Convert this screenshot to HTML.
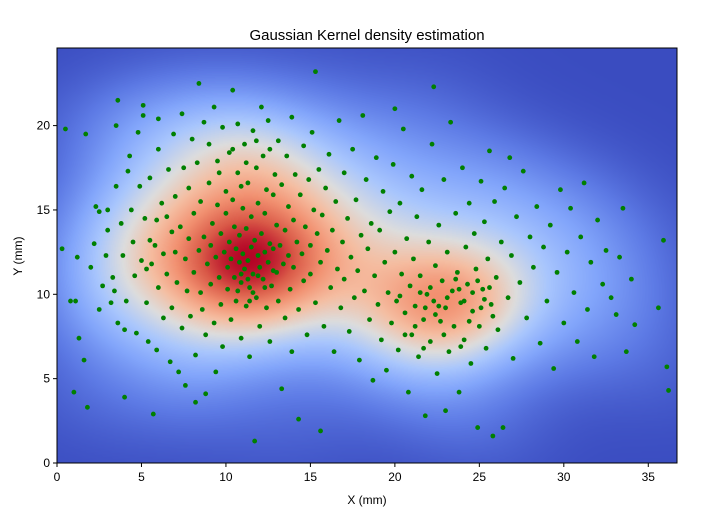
<!DOCTYPE html>
<html><head><meta charset="utf-8"><style>
body{margin:0;background:#fff;width:718px;height:517px;overflow:hidden;font-family:"Liberation Sans",sans-serif}
#wrap{position:relative;width:718px;height:517px}
canvas{position:absolute;left:57px;top:48px}
svg{position:absolute;left:0;top:0}
</style></head><body>
<div id="wrap">
<canvas id="cv" width="620" height="415"></canvas>
<svg id="sv" width="718" height="517"></svg>
</div>
<script>
const points=[[0.3,12.7],[0.5,19.8],[0.8,9.6],[1.1,9.6],[1,4.2],[1.2,12.2],[1.3,7.4],[1.7,19.5],[1.6,6.1],[1.8,3.3],[2,11.6],[2.2,13],[2.3,15.2],[2.5,14.9],[2.5,9.1],[2.7,10.5],[2.9,12.3],[3,13.8],[3,15],[3.2,9.5],[3.3,11],[3.4,10.2],[3.5,20],[3.6,21.5],[3.5,16.4],[3.6,8.3],[3.8,14.2],[3.9,12.3],[4,7.9],[4,3.9],[4.1,9.6],[4.2,17.3],[4.3,18.2],[4.4,15],[4.5,13.1],[4.6,11.1],[4.7,7.7],[4.8,19.6],[4.9,16.4],[5,12],
[5.1,20.6],[5.1,21.2],[5.2,14.5],[5.3,11.5],[5.3,9.5],[5.4,7.2],[5.5,13.2],[5.5,16.9],[5.6,11.8],[5.7,2.9],[5.8,12.9],[5.9,14.4],[5.9,6.7],[6,18.6],[6,10.4],[6,20.4],[6.2,15.4],[6.3,12.4],[6.3,8.6],[6.5,14.6],[6.5,11.2],[6.6,17.4],[6.7,6],[6.8,13.7],[6.8,9.2],[6.9,19.5],[7,12.5],[7,15.8],[7.1,10.7],[7.2,5.4],[7.3,14],[7.4,20.7],[7.4,8],[7.5,17.5],[7.6,12.1],[7.6,4.6],[7.7,10.2],[7.8,16.3],[7.8,13.3],[7.9,8.7],[8,19.2],
[8.1,11.3],[8.1,14.8],[8.2,6.4],[8.2,3.6],[8.3,17.8],[8.4,22.5],[8.4,12.6],[8.5,10.1],[8.5,15.5],[8.6,9.1],[8.7,20.2],[8.7,13.4],[8.8,7.6],[8.8,4.1],[8.9,11.8],[9,16.6],[9,18.9],[9.1,12.9],[9.1,10.6],[9.2,14.2],[9.3,8.3],[9.3,21.1],[9.4,12.2],[9.4,5.4],[9.5,15.3],[9.5,17.9],[9.6,11],[9.7,13.6],[9.7,9.4],[9.8,19.9],[9.8,6.9],[9.9,12.5],[10,16.1],[10,14.8],
[10.1,11.6],[10.1,10.3],[10.2,13.1],[10.2,18.4],[10.3,12.1],[10.3,8.5],[10.4,22.1],[10.4,15.6],[10.5,11],[10.5,14],[10.6,12.7],[10.6,9.6],[10.7,17.2],[10.7,20.1],[10.8,11.9],[10.8,13.5],[10.9,7.4],[10.9,10.7],[11,12.4],[11,15.1],[11.1,18.9],[11.1,11.5],[11.2,9.3],[11.2,13.9],[11.3,12],[11.3,16.6],[11.4,10.4],[11.4,6.3],[11.5,12.8],[11.5,14.6],[11.6,11.2],[11.6,19.7],[11.7,1.3],[11.7,13.2],[11.8,9.8],[11.8,17.5],[11.9,12.3],[11.9,15.4],[12,11.6],[12,8.1],[12.1,13.6],[12.1,21.1],[12.2,10.9],[12.2,18.2],[12.3,12.5],[12.3,14.8],[12.4,9.2],[12.4,16.2],[12.5,11.9],[12.5,20.3],[12.6,13],[12.6,7.2],[12.7,10.5],[12.8,15.9],[12.8,12.7],[12.9,17.1],[13,11.3],[13,14.1],
[10.4,18.6],[11.2,17.8],[12.6,18.6],[9.6,17.2],[11.8,19.1],[10.9,16.4],
[11.3,10.9],[11.9,11.1],[10.7,10.2],[12.3,10.4],[11.6,10.1],[10.9,11.2],[12.8,11.4],[11.4,9.6],
[13.1,9.6],[13.1,19.1],[13.2,12.9],[13.3,4.4],[13.3,16.5],[13.4,11.8],[13.5,13.8],[13.5,8.6],[13.6,18.2],[13.7,12.3],[13.7,15.2],[13.8,10.3],[13.9,20.5],[13.9,6.6],[14,14.4],[14,11.6],[14.1,17.1],[14.2,13.1],[14.3,9.1],[14.3,2.6],[14.4,15.9],[14.5,12.4],[14.6,18.8],[14.6,10.8],[14.7,14],[14.8,7.6],[14.9,16.8],[15,12.9],[15,11.2],[15.1,19.6],[15.2,15],[15.3,9.5],[15.3,23.2],[15.4,13.6],[15.5,17.4],[15.6,1.9],[15.6,11.9],[15.7,14.7],[15.8,8.1],[15.9,16.3],[16,12.6],
[16.1,18.3],[16.2,10.4],[16.3,13.8],[16.4,6.6],[16.5,15.5],[16.6,11.5],[16.7,20.3],[16.8,9.2],[16.9,13.1],[17,17.2],[17,10.9],[17.2,14.5],[17.3,7.8],[17.4,12.2],[17.5,18.6],[17.6,9.8],[17.7,15.6],[17.8,11.4],[17.9,6.1],[18,13.5],[18.1,20.6],[18.2,10.2],[18.3,16.8],[18.4,12.7],[18.5,8.5],[18.6,14.2],[18.7,4.9],[18.8,11.1],[18.9,18.1],[19,9.4],
[19.1,13.8],[19.2,7.3],[19.3,16.1],[19.4,11.9],[19.5,5.5],[19.6,10.1],[19.7,14.9],[19.8,8.3],[19.9,17.7],[20,12.5],[20,21],[20.1,9.6],[20.2,6.7],[20.3,15.4],[20.4,11.2],[20.5,19.8],[20.6,8.9],[20.7,13.3],[20.8,4.2],[20.9,10.5],[21,17],[21,7.6],[21.1,12.1],[21.2,9.3],[21.3,14.6],[21.4,6.3],[21.5,11.1],[21.6,16.2],[21.7,8.5],[21.8,2.8],[21.9,10],[22,13.1],
[22.1,7.2],[22.2,18.9],[22.3,9.6],[22.3,22.3],[22.4,11.7],[22.5,5.3],[22.6,14.1],[22.7,8.4],[22.8,10.8],[22.9,16.8],[23,9.2],[23,3.1],[23.1,12.5],[23.2,6.6],[23.3,20.2],[23.4,10.2],[23.5,8.1],[23.6,14.8],[23.7,11.3],[23.8,4.2],[23.9,9.5],[24,17.5],[24.1,7.3],[24.2,12.8],[24.3,10.6],[24.4,15.4],[24.5,5.9],[24.6,9],[24.7,13.6],[24.8,11.5],[24.9,2.1],[25,8.1],
[21.8,9.2],[22.4,8.8],[23.1,9.8],[21.5,10.1],[24.1,9.6],[20.6,7.6],[21.2,8.1],[22.9,7.6],[24.4,8.4],[25.3,9.7],[22.1,10.4],[23.6,10.9],[20.3,9.9],[24.9,10.8],[21.7,6.8],[23.9,6.9],[22.6,9.3],[25.8,8.7],
[24.6,10.1],[25.1,9.2],[23.8,10.3],[25.6,10.4],
[25.1,16.7],[25.2,10.3],[25.3,14.3],[25.4,6.8],[25.5,12.1],[25.6,18.5],[25.7,9.4],[25.8,1.6],[25.9,15.5],[26,11],[26.1,7.9],[26.3,13.1],[26.4,2.1],[26.5,16.3],[26.7,9.8],[26.8,18.1],[26.9,12.3],[27,6.2],[27.2,14.6],[27.4,10.7],[27.6,17.3],[27.8,8.6],[28,13.4],[28.2,11.6],[28.4,15.2],[28.6,7.1],[28.8,12.8],[29,9.6],[29.2,14.1],[29.4,5.6],[29.6,11.3],[29.8,16.2],[30,8.3],
[30.2,12.5],[30.4,15.1],[30.6,10.1],[30.8,7.2],[31,13.4],[31.2,16.6],[31.4,9.1],[31.6,11.9],[31.8,6.3],[32,14.4],[32.3,10.6],[32.5,12.6],[32.8,9.8],[33.1,8.8],[33.3,12.2],[33.5,15.1],[33.7,6.6],[34,10.9],[34.2,8.2],[35.6,9.2],[35.9,13.2],[36.1,5.7],[36.2,4.3]];
const xTicks=[0,5,10,15,20,25,30,35];
const yTicks=[0,5,10,15,20];
const X0=57,X1=677,Y0=463,Y1=48,XMAX=36.7,YMAX=24.6;
const sx=v=>X0+v/XMAX*(X1-X0), sy=v=>Y0-v/YMAX*(Y0-Y1);
const cv=document.getElementById('cv'),ctx=cv.getContext('2d');
const W=620,H=415,S=2,gw=W/S,gh=H/S;
const bx=3.0,by=2.3;
const dens=new Float32Array(gw*gh);let mx=0;
for(let j=0;j<gh;j++){const yv=YMAX-(j+0.5)*S/H*YMAX;for(let i=0;i<gw;i++){const xv=(i+0.5)*S/W*XMAX;let s=0;for(const p of points){const dx=(xv-p[0])/bx,dy=(yv-p[1])/by;s+=Math.exp(-0.5*(dx*dx+dy*dy));}dens[j*gw+i]=s;if(s>mx)mx=s;}}
const cm=[[0,58,76,192],[0.125,93,122,229],[0.25,130,165,251],[0.375,170,199,253],[0.5,221,221,221],[0.625,245,190,162],[0.75,242,145,113],[0.875,218,90,72],[1,180,4,38]];
function col(t){for(let k=1;k<cm.length;k++){if(t<=cm[k][0]){const a=cm[k-1],b=cm[k],f=(t-a[0])/(b[0]-a[0]);return [a[1]+f*(b[1]-a[1]),a[2]+f*(b[2]-a[2]),a[3]+f*(b[3]-a[3])];}}return cm[cm.length-1].slice(1);}
const off=document.createElement('canvas');off.width=gw;off.height=gh;const oc=off.getContext('2d');const img=oc.createImageData(gw,gh);
for(let k=0;k<gw*gh;k++){const c=col(dens[k]/mx);img.data[4*k]=c[0];img.data[4*k+1]=c[1];img.data[4*k+2]=c[2];img.data[4*k+3]=255;}
oc.putImageData(img,0,0);ctx.imageSmoothingEnabled=true;ctx.drawImage(off,0,0,W,H);
const NS='http://www.w3.org/2000/svg',sv=document.getElementById('sv');
function mk(t,a,txt){const e=document.createElementNS(NS,t);for(const k in a)e.setAttribute(k,a[k]);if(txt!==undefined)e.textContent=txt;sv.appendChild(e);return e;}
const defs=mk('defs',{});
defs.innerHTML='<clipPath id="clp"><rect x="57" y="48" width="620" height="415"/></clipPath>';
const g=mk('g',{'clip-path':'url(#clp)'});


for(const p of points){const c=document.createElementNS(NS,'circle');c.setAttribute('cx',sx(p[0]));c.setAttribute('cy',sy(p[1]));c.setAttribute('r',2.4);c.setAttribute('fill','#008000');


g.appendChild(c);}
const fr=mk('rect',{x:X0,y:Y1,width:X1-X0,height:Y0-Y1,fill:'none',stroke:'#000','stroke-width':1});


for(const t of xTicks){const x=sx(t);const l=mk('line',{x1:x,x2:x,y1:Y0,y2:Y0+4,stroke:'#000'});


const tx=mk('text',{x:x,y:Y0+18,'text-anchor':'middle','font-size':12,fill:'#000'},t);

}
for(const t of yTicks){const y=sy(t);const l=mk('line',{x1:X0-4,x2:X0,y1:y,y2:y,stroke:'#000'});


const tx=mk('text',{x:X0-7,y:y+4,'text-anchor':'end','font-size':12,fill:'#000'},t);

}
const ti=mk('text',{x:367,y:40,'text-anchor':'middle','font-size':15,fill:'#000'},'Gaussian Kernel density estimation');


const xl=mk('text',{x:367,y:504,'text-anchor':'middle','font-size':12,fill:'#000'},'X (mm)');


const yl=mk('text',{x:22,y:256,'text-anchor':'middle','font-size':12,fill:'#000',transform:'rotate(-90 22 256)'},'Y (mm)');


</script>
</body></html>
